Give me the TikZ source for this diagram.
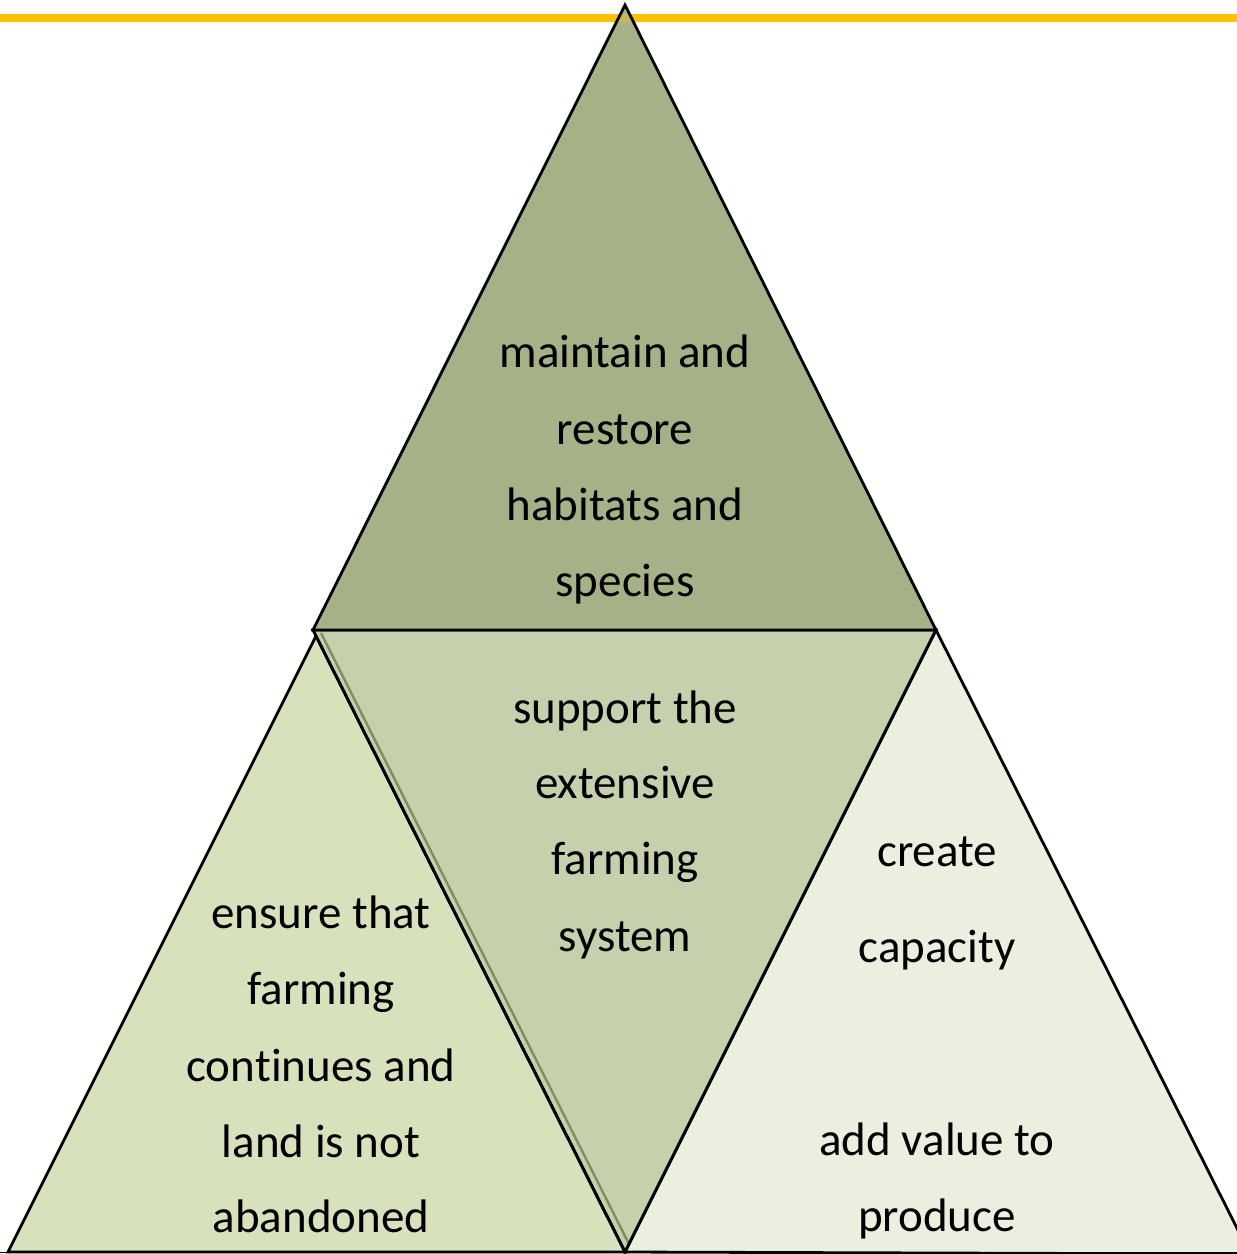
\documentclass[tikz,border=0pt]{standalone}
\usepackage{fontspec}
\setmainfont[Ligatures={NoCommon}]{Carlito}
\definecolor{topc}{HTML}{A5B287}
\definecolor{midc}{HTML}{C5D1AC}
\definecolor{leftc}{HTML}{D7E2BC}
\definecolor{rightc}{HTML}{EBEFDF}
\definecolor{bevel}{HTML}{7F8D62}
\definecolor{orangec}{HTML}{FFC000}
\tikzset{
  tri/.style={draw=black, line width=2.8pt, line join=miter},
  lbl/.style={anchor=base, inner sep=0pt, font=\fontsize{47}{56}\selectfont, text=black}
}
\begin{document}
\begin{tikzpicture}[x=1pt,y=-1pt]
\useasboundingbox (0,0) rectangle (1237,1254);
\clip (0,0) rectangle (1237,1254);
% orange rule
\fill[orangec] (0,14) rectangle (1237,22);
% middle inverted triangle
\fill[midc] (313,630) -- (936,630) -- (625,1252) -- cycle;
\draw[bevel, line width=2.4pt] (321,633) -- (630,1246);
% left triangle
\draw[tri, fill=leftc] (316,636) -- (625,1252) -- (8,1252) -- cycle;
% right triangle
\draw[tri, fill=rightc] (936,630) -- (1250,1254) -- (625,1252) -- cycle;
% middle outline
\draw[tri] (313,630) -- (936,630) -- (625,1252) -- cycle;
% top triangle
\fill[topc] (625,5) -- (936,630) -- (313,630) -- cycle;
\begin{scope}
  \clip (625,5) -- (936,630) -- (313,630) -- cycle;
  \fill[orangec, opacity=0.4] (0,14) rectangle (1237,22);
\end{scope}
\draw[tri] (625,5) -- (936,630) -- (313,630) -- cycle;
\draw[line width=1pt] (0,1252) -- (1237,1252);
% labels: top
\node[lbl] (t1) at (625,367) {maintain and};
\node[lbl] (t2) at (625,444) {restore};
\node[lbl] (t3) at (625,520) {habitats and};
\node[lbl] (t4) at (625,596) {species};
% labels: middle
\node[lbl] (m1) at (625,723) {support the};
\node[lbl] (m2) at (625,798) {extensive};
\node[lbl] (m3) at (625,874) {farming};
\node[lbl] (m4) at (625,951) {system};
% labels: left
\node[lbl] (l1) at (321,928) {ensure that};
\node[lbl] (l2) at (321,1004) {farming};
\node[lbl] (l3) at (321,1081) {con\mbox{t}inues and};
\node[lbl] (l4) at (321,1157) {land is not};
\node[lbl] (l5) at (321,1232) {abandoned};
% labels: right
\node[lbl] (r1) at (937,866) {create};
\node[lbl] (r2) at (937,962) {capacity};
\node[lbl] (r3) at (937,1155) {add value to};
\node[lbl] (r4) at (937,1231) {produce};
\end{tikzpicture}
\end{document}
